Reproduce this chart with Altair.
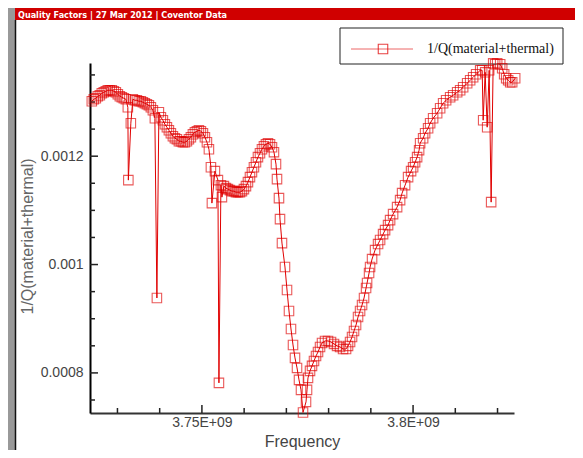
import altair as alt
import pandas as pd

# ---- data (frequency in GHz, 1/Q in units of 1e-6) ----
freq_ghz = [
    3.72393, 3.72440, 3.72488, 3.72535, 3.72583, 3.72630, 3.72677, 3.72725, 3.72772, 3.72820,
    3.72867, 3.72914, 3.72962, 3.73009, 3.73057, 3.73104, 3.73151, 3.73199, 3.73246, 3.73258,
    3.73317, 3.73365, 3.73412, 3.73460, 3.73507, 3.73554, 3.73602, 3.73649, 3.73697, 3.73744,
    3.73791, 3.73839, 3.73886, 3.73934, 3.73981, 3.74028, 3.74076, 3.74123, 3.74171, 3.74218,
    3.74265, 3.74313, 3.74360, 3.74408, 3.74455, 3.74502, 3.74550, 3.74597, 3.74645, 3.74692,
    3.74739, 3.74787, 3.74834, 3.74882, 3.74929, 3.74976, 3.75024, 3.75071, 3.75119, 3.75166,
    3.75213, 3.75237, 3.75308, 3.75379, 3.75403, 3.75450, 3.75474, 3.75521, 3.75569, 3.75616,
    3.75664, 3.75711, 3.75758, 3.75806, 3.75853, 3.75901, 3.75948, 3.75995, 3.76043, 3.76090,
    3.76138, 3.76185, 3.76232, 3.76280, 3.76327, 3.76375, 3.76422, 3.76469, 3.76517, 3.76564,
    3.76612, 3.76659, 3.76706, 3.76754, 3.76778, 3.76825, 3.76849, 3.76896, 3.76967, 3.77015,
    3.77062, 3.77109, 3.77157, 3.77204, 3.77252, 3.77299, 3.77346, 3.77394, 3.77465, 3.77489,
    3.77512, 3.77560, 3.77607, 3.77654, 3.77702, 3.77749, 3.77797, 3.77844, 3.77915, 3.77986,
    3.78057, 3.78128, 3.78200, 3.78271, 3.78342, 3.78413, 3.78460, 3.78508, 3.78555, 3.78602,
    3.78650, 3.78697, 3.78745, 3.78792, 3.78839, 3.78887, 3.78911, 3.78958, 3.78982, 3.79029,
    3.79100, 3.79171, 3.79219, 3.79290, 3.79337, 3.79408, 3.79456, 3.79527, 3.79622, 3.79693,
    3.79740, 3.79811, 3.79882, 3.79953, 3.80001, 3.80048, 3.80096, 3.80143, 3.80167, 3.80238,
    3.80285, 3.80356, 3.80404, 3.80475, 3.80570, 3.80641, 3.80712, 3.80783, 3.80878, 3.80949,
    3.81044, 3.81115, 3.81186, 3.81281, 3.81352, 3.81423, 3.81494, 3.81589, 3.81636, 3.81660,
    3.81707, 3.81755, 3.81802, 3.81849, 3.81897, 3.81944, 3.81992, 3.82063, 3.82110, 3.82157,
    3.82205, 3.82252, 3.82300, 3.82347, 3.82418,
]
inv_q_micro = [
    1301.4, 1305.1, 1306.9, 1310.6, 1312.4, 1316.1, 1318.0, 1319.8, 1321.7, 1321.7,
    1321.7, 1319.8, 1318.0, 1314.3, 1310.6, 1308.8, 1306.9, 1305.1, 1290.3, 1155.8,
    1260.8, 1305.1, 1303.2, 1303.2, 1301.4, 1301.4, 1299.5, 1297.7, 1295.9, 1294.0,
    1290.3, 1284.8, 1270.0, 938.3, 1281.1, 1271.9, 1266.4, 1259.0, 1253.5, 1247.9,
    1242.4, 1236.9, 1233.2, 1231.3, 1227.6, 1227.6, 1225.8, 1225.8, 1227.6, 1231.3,
    1235.0, 1240.6, 1244.2, 1246.1, 1247.9, 1246.1, 1242.4, 1235.0, 1225.8, 1212.9,
    1179.7, 1113.4, 1172.4, 1155.8, 781.6, 1146.5, 1124.4, 1144.7, 1141.0, 1139.2,
    1137.3, 1135.5, 1135.5, 1133.6, 1133.6, 1133.6, 1135.5, 1139.2, 1144.7, 1152.1,
    1161.3, 1170.5, 1179.7, 1188.9, 1198.2, 1205.5, 1212.9, 1218.4, 1222.1, 1224.0,
    1222.1, 1216.6, 1207.4, 1185.3, 1157.6, 1122.6, 1083.9, 1039.6, 995.4, 953.0,
    914.3, 881.1, 851.6, 827.7, 809.2, 787.1, 768.7, 727.0, 746.5, 768.7,
    790.8, 803.7, 812.9, 822.1, 831.3, 838.7, 847.9, 855.3, 859.0, 859.0,
    857.1, 853.5, 849.8, 847.9, 844.2, 844.2, 849.8, 857.1, 866.4, 877.4,
    888.5, 903.2, 914.3, 925.3, 938.3, 956.7, 965.9, 984.3, 995.4, 1010.1,
    1026.7, 1037.8, 1045.2, 1056.2, 1063.6, 1072.8, 1082.0, 1093.1, 1106.0, 1118.9,
    1131.8, 1146.5, 1161.3, 1172.4, 1179.7, 1188.9, 1198.2, 1211.1, 1224.0, 1233.2,
    1242.4, 1251.6, 1260.8, 1270.0, 1279.3, 1288.5, 1297.7, 1303.2, 1308.8, 1312.4,
    1318.0, 1321.7, 1327.2, 1334.6, 1340.1, 1345.6, 1351.2, 1358.5, 1358.5, 1266.4,
    1354.8, 1253.5, 1358.5, 1115.2, 1371.4, 1369.6, 1371.4, 1369.6, 1362.2, 1351.2,
    1343.8, 1340.1, 1336.4, 1336.4, 1343.8,
]

x_major_ticks = [3.75e9, 3.80e9]
x_minor_ticks = [3.73e9, 3.74e9, 3.76e9, 3.77e9, 3.78e9, 3.79e9, 3.81e9, 3.82e9]
y_major_ticks = [0.0008, 0.0010, 0.0012]
y_minor_ticks = [0.00075, 0.00085, 0.0009, 0.00095, 0.00105, 0.0011, 0.00115,
                 0.00125, 0.0013, 0.00135]

series_name = "1/Q(material+thermal)"
header_text = "Quality Factors | 27 Mar 2012 | Coventor Data"
x_title = "Frequency"
y_title = "1/Q(material+thermal)"

RED = "#e00000"

df = pd.DataFrame({
    "freq": [f * 1e9 for f in freq_ghz],
    "invq": [v * 1e-6 for v in inv_q_micro],
    "order": list(range(len(freq_ghz))),
})

xscale = alt.Scale(domain=[3.7235e9, 3.8239e9], nice=False, zero=False)
yscale = alt.Scale(domain=[0.000726, 0.001372], nice=False, zero=False)

x_axis = alt.Axis(
    values=x_major_ticks,
    labelExpr="format(datum.value/1e9, '.2~f') + 'E+09'",
    ticks=False, grid=False,
    domainColor="#333333", domainWidth=2,
    labelFont="Liberation Sans", labelFontSize=14, labelColor="#444444",
    labelPadding=2, labelFlush=False,
    title=x_title, titleFont="Liberation Sans", titleFontSize=16,
    titleFontWeight="normal", titleColor="#444444",
    titleY=33, titleBaseline="alphabetic",
)
y_axis = alt.Axis(
    values=y_major_ticks, format=".4~f",
    ticks=False, grid=False,
    domainColor="#000000", domainWidth=2,
    labelFont="Liberation Sans", labelFontSize=14, labelColor="#444444",
    labelPadding=7,
    title=y_title, titleFont="Liberation Sans", titleFontSize=16,
    titleFontWeight="normal", titleColor="#666666",
    titleAngle=270, titleX=-63, titleY=173,
    titleAlign="center", titleBaseline="middle",
)

one = pd.DataFrame({"k": [0]})

# decorations: gray side band, red header, dark border line
band = alt.Chart(one).mark_rect(color="#999999").encode(
    x=alt.value(-82), x2=alt.value(-75), y=alt.value(-55), y2=alt.value(400))
header = alt.Chart(one).mark_rect(color="#d00000").encode(
    x=alt.value(-75), x2=alt.value(490), y=alt.value(-55), y2=alt.value(-43))
border = alt.Chart(one).mark_rule(color="#111111", strokeWidth=1.5).encode(
    x=alt.value(-74.5), y=alt.value(-43), y2=alt.value(400))
header_lbl = alt.Chart(one).mark_text(
    align="left", baseline="middle", color="white", fontWeight="bold",
    fontSize=9, font="Liberation Sans Narrow, DejaVu Sans Condensed, sans-serif",
).encode(x=alt.value(-72), y=alt.value(-48.5), text=alt.value(header_text))

# legend box
leg_box = alt.Chart(one).mark_rect(fill="white", stroke="#222222", strokeWidth=1).encode(
    x=alt.value(250), x2=alt.value(473), y=alt.value(-35), y2=alt.value(1))
leg_line = alt.Chart(one).mark_rule(color=RED, strokeWidth=1, opacity=0.6).encode(
    x=alt.value(261), x2=alt.value(323), y=alt.value(-14))
leg_pt = alt.Chart(one).mark_point(shape="square", filled=False, size=90,
                                   color=RED, strokeWidth=1.1, opacity=0.75).encode(
    x=alt.value(293), y=alt.value(-14))
leg_txt = alt.Chart(one).mark_text(
    align="left", baseline="middle", font="Liberation Serif", fontSize=14, color="#111111",
).encode(x=alt.value(337), y=alt.value(-14), text=alt.value(series_name))

# custom inward ticks (share the same axis definition so the axes merge)
def yticks(vals, length):
    return alt.Chart(pd.DataFrame({"v": vals})).mark_rule(color="#222222", strokeWidth=1.5).encode(
        y=alt.Y("v:Q", scale=yscale, axis=y_axis), x=alt.value(0), x2=alt.value(length))

def xticks(vals, length):
    return alt.Chart(pd.DataFrame({"v": vals})).mark_rule(color="#222222", strokeWidth=1.5).encode(
        x=alt.X("v:Q", scale=xscale, axis=x_axis), y=alt.value(350), y2=alt.value(350 - length))

base = alt.Chart(df).encode(
    x=alt.X("freq:Q", scale=xscale, axis=x_axis),
    y=alt.Y("invq:Q", scale=yscale, axis=y_axis),
    order=alt.Order("order:Q"),
)
line = base.mark_line(color=RED, strokeWidth=1)
pts = base.mark_point(shape="square", filled=False, size=90, color=RED,
                      strokeWidth=1.1, opacity=0.65)

chart = alt.layer(
    line, band, header, border, header_lbl, leg_box, leg_line, leg_pt, leg_txt,
    yticks(y_major_ticks, 8), yticks(y_minor_ticks, 5),
    xticks(x_major_ticks, 8), xticks(x_minor_ticks, 5),
    pts,
).properties(
    width=424, height=350,
    autosize=alt.AutoSizeParams(type="none"),
    padding={"left": 82, "top": 55, "right": 61, "bottom": 37},
    background="white",
).configure_view(stroke=None)

chart.save("out.html", embed_options={"renderer": "svg", "actions": False})
